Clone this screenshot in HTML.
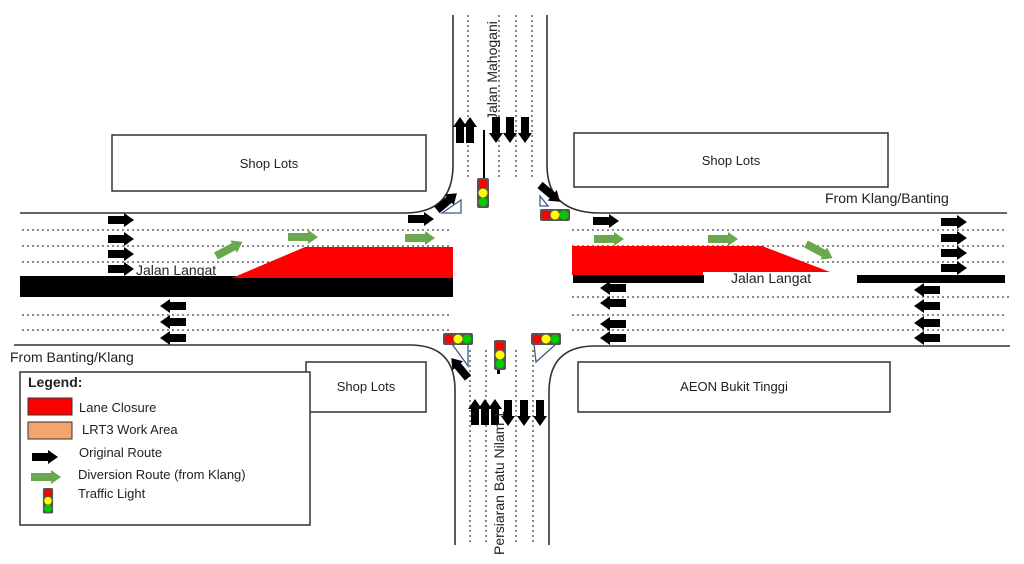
<!DOCTYPE html>
<html><head><meta charset="utf-8"><style>
html,body{margin:0;padding:0;background:#fff}
svg{display:block}
text{font-family:"Liberation Sans",sans-serif;fill:#222}
</style></head><body>
<svg width="1024" height="564" viewBox="0 0 1024 564" xmlns="http://www.w3.org/2000/svg">
<defs>
<polygon id="a" points="0,-4 16,-4 16,-7 26,0 16,7 16,4 0,4" fill="#000"/>
<polygon id="g" points="0,-4 20,-4 20,-7 30,0 20,7 20,4 0,4" fill="#6aa84f"/>
<g id="tlv"><rect x="-6" y="0" width="12" height="30" rx="2" fill="#555"/><circle cx="0" cy="6" r="4.5" fill="red"/><circle cx="0" cy="15" r="4.5" fill="#ff0"/><circle cx="0" cy="24" r="4.5" fill="#0c0"/></g>
<g id="tlh"><rect x="0" y="-6" width="30" height="12" rx="2" fill="#555"/><circle cx="6" cy="0" r="4.5" fill="red"/><circle cx="15" cy="0" r="4.5" fill="#ff0"/><circle cx="24" cy="0" r="4.5" fill="#0c0"/></g>
</defs>
<g fill="none" stroke="#333" stroke-width="1.6">
<path d="M20,213 H405 Q453,213 453,165 V15"/>
<path d="M14,345 H410 Q455,345 455,390 V545"/>
<path d="M1007,213 H600 Q547,213 547,165 V15"/>
<path d="M1010,346 H595 Q549,346 549,392 V545"/>
</g>
<g stroke="#444" stroke-width="1.3" stroke-dasharray="2,3">
<path d="M22,230H452M22,246H452M22,262H452M22,315H452M22,330H452"/>
<path d="M572,230H1005M572,246H1005M572,262H1005M572,297H1010M572,315H1005M572,330H1005"/>
<path d="M468,15V178M499,15V178M516,15V178M532,15V178"/>
<path d="M470,350V545M486,350V545M516,350V545M533,350V545"/>
</g>
<rect x="20" y="276" width="433" height="21" fill="#000"/>
<polygon points="232,278 305,247 453,247 453,278" fill="#f00"/>
<polygon points="572,246 762,246 830,272 703,272 703,275 572,275" fill="#f00"/>
<rect x="573" y="275" width="131" height="8" fill="#000"/>
<rect x="857" y="275" width="148" height="8" fill="#000"/>
<line x1="484" y1="130" x2="484" y2="178" stroke="#000" stroke-width="2"/>
<g>
<use href="#a" x="108" y="220"/><use href="#a" x="108" y="239"/><use href="#a" x="108" y="254"/><use href="#a" x="108" y="269"/>
<use href="#a" x="408" y="219"/>
<use href="#a" transform="translate(186,306) scale(-1,1)"/><use href="#a" transform="translate(186,322) scale(-1,1)"/><use href="#a" transform="translate(186,338) scale(-1,1)"/>
<use href="#a" x="593" y="221"/>
<use href="#a" x="941" y="222"/><use href="#a" x="941" y="238"/><use href="#a" x="941" y="253"/><use href="#a" x="941" y="268"/>
<use href="#a" transform="translate(626,288) scale(-1,1)"/><use href="#a" transform="translate(626,303) scale(-1,1)"/><use href="#a" transform="translate(626,324) scale(-1,1)"/><use href="#a" transform="translate(626,338) scale(-1,1)"/>
<use href="#a" transform="translate(940,290) scale(-1,1)"/><use href="#a" transform="translate(940,306) scale(-1,1)"/><use href="#a" transform="translate(940,323) scale(-1,1)"/><use href="#a" transform="translate(940,338) scale(-1,1)"/>
<use href="#a" transform="translate(460,143) rotate(-90)"/><use href="#a" transform="translate(470,143) rotate(-90)"/>
<use href="#a" transform="translate(496,117) rotate(90)"/><use href="#a" transform="translate(510,117) rotate(90)"/><use href="#a" transform="translate(525,117) rotate(90)"/>
<use href="#a" transform="translate(475,425) rotate(-90)"/><use href="#a" transform="translate(485,425) rotate(-90)"/><use href="#a" transform="translate(495,425) rotate(-90)"/>
<use href="#a" transform="translate(508,400) rotate(90)"/><use href="#a" transform="translate(524,400) rotate(90)"/><use href="#a" transform="translate(540,400) rotate(90)"/>
<use href="#a" transform="translate(437,210) rotate(-40)"/>
<use href="#a" transform="translate(540,185) rotate(40)"/>
<use href="#a" transform="translate(468,378) rotate(-130)"/>
<use href="#g" x="288" y="237"/><use href="#g" x="405" y="238"/><use href="#g" transform="translate(216,256) rotate(-28)"/>
<use href="#g" x="594" y="239"/><use href="#g" x="708" y="239"/><use href="#g" transform="translate(806,244) rotate(28)"/>
</g>
<g fill="none" stroke="#3c5a8a" stroke-width="1.3">
<polygon points="442,213 461,200 461,213"/>
<polygon points="540,196 548,206 540,206"/>
<polygon points="452,344 468,344 468,366"/>
<polygon points="534,344 556,344 536,362"/>
</g>
<use href="#tlv" x="483" y="178"/><use href="#tlh" x="540" y="215"/>
<use href="#tlh" x="443" y="339"/><use href="#tlh" x="531" y="339"/><use href="#tlv" x="500" y="340"/>
<rect x="497" y="370" width="3" height="4" fill="#000"/>
<g fill="#fff" stroke="#333" stroke-width="1.5">
<rect x="112" y="135" width="314" height="56"/>
<rect x="574" y="133" width="314" height="54"/>
<rect x="306" y="362" width="120" height="50"/>
<rect x="578" y="362" width="312" height="50"/>
<rect x="20" y="372" width="290" height="153"/>
</g>
<g font-size="13" text-anchor="middle">
<text x="269" y="168">Shop Lots</text>
<text x="731" y="165">Shop Lots</text>
<text x="366" y="391">Shop Lots</text>
<text x="734" y="391">AEON Bukit Tinggi</text>
</g>
<text x="136" y="275" font-size="14">Jalan Langat</text>
<text x="731" y="283" font-size="14">Jalan Langat</text>
<text x="825" y="203" font-size="14">From Klang/Banting</text>
<text x="10" y="362" font-size="14">From Banting/Klang</text>
<text transform="translate(497,120) rotate(-90)" font-size="14">Jalan Mahogani</text>
<text transform="translate(504,555) rotate(-90)" font-size="14">Persiaran Batu Nilam 1</text>
<text x="28" y="387" font-size="14" font-weight="bold">Legend:</text>
<rect x="28" y="398" width="44" height="17" fill="#f00" stroke="#333"/>
<rect x="28" y="422" width="44" height="17" fill="#f4a46c" stroke="#333"/>
<g font-size="13">
<text x="79" y="412">Lane Closure</text>
<text x="82" y="434">LRT3 Work Area</text>
<text x="79" y="457">Original Route</text>
<text x="78" y="479">Diversion Route (from Klang)</text>
<text x="78" y="498">Traffic Light</text>
</g>
<use href="#a" x="32" y="457"/>
<use href="#g" x="31" y="477"/>
<g transform="translate(48,488) scale(0.85)"><use href="#tlv"/></g>
</svg>
</body></html>
